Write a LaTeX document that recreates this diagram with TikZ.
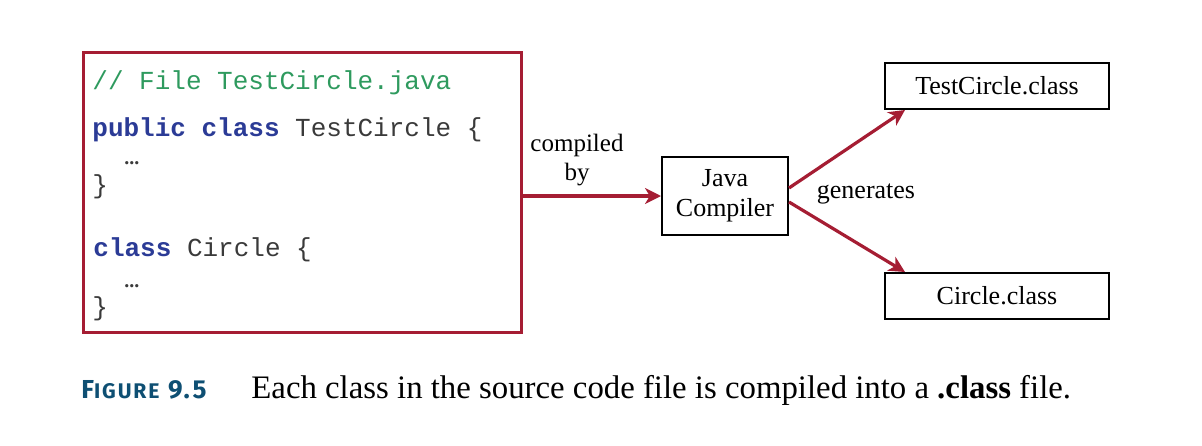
\documentclass[tikz,border=0pt]{standalone}
\usepackage{fontspec}
\setmainfont{Liberation Serif}
\setmonofont{Liberation Mono}
\newfontfamily\capsans[LetterSpace=9]{Fira Sans}
\usetikzlibrary{arrows.meta,calc}
\definecolor{codered}{HTML}{A51D33}
\definecolor{codegreen}{HTML}{2E9A5E}
\definecolor{codeblue}{HTML}{2B3B96}
\definecolor{codegray}{HTML}{3A3A3A}
\definecolor{capblue}{HTML}{0E4F73}
\begin{document}
\begin{tikzpicture}[x=0.5pt,y=-0.5pt,
  codeline/.style={anchor=base west,inner sep=0pt,font=\fontsize{13}{15}\ttfamily,text=codegray},
  dots/.style={anchor=base west,inner sep=0pt,font=\fontsize{10}{12}\bfseries,text=codegray},
  plainbox/.style={draw=black,line width=1pt,inner sep=0pt,align=center,font=\fontsize{13}{15}\selectfont},
  redarrow/.style={draw=codered,line width=1.6pt,-{Stealth[length=8pt,width=8pt,inset=2.4pt]}},
  lbl/.style={inner sep=0pt,align=center,font=\fontsize{12.5}{14.5}\selectfont}]
\useasboundingbox (0,0) rectangle (1202,445);
% code box
\node[draw=codered,line width=1.5pt,minimum width=219pt,minimum height=140pt,inner sep=0pt] (code) at (302,192) {};
\node[codeline,text=codegreen] (l1) at (92,89) {// File TestCircle.java};
\node[codeline] (l2) at (92,136) {\textcolor{codeblue}{\bfseries public class} TestCircle \{};
\node[dots] (l3) at (124,164) {...};
\node[codeline] (l4) at (92,193) {\}};
\node[codeline] (l5) at (93,256) {\textcolor{codeblue}{\bfseries class} Circle \{};
\node[dots] (l6) at (124,287) {...};
\node[codeline] (l7) at (92,315) {\}};
% boxes
\node[plainbox,minimum width=63pt,minimum height=39pt] (java) at (725,196) {Java\\Compiler};
\node[plainbox,minimum width=112pt,minimum height=23pt] (tc) at (997,86) {TestCircle.class};
\node[plainbox,minimum width=112pt,minimum height=23pt] (cc) at (997,296) {Circle.class};
% arrows
\draw[redarrow] (code.east |- java.west) -- (java.west);
\draw[redarrow] ($(java.east)+(0,-8)$) -- ($(tc.south west)+(21,0)$);
\draw[redarrow] ($(java.east)+(0,6)$) -- ($(cc.north west)+(21,0)$);
% labels
\node[lbl] (compiled) at (577,160) {compiled\\by};
\node[lbl,anchor=base,font=\fontsize{13}{15}\selectfont] (gen) at (866,198) {generates};
% caption
\node[anchor=base west,inner sep=0pt,text=capblue,font=\capsans\bfseries] (fig) at (81,398)
  {\fontsize{13}{14}\selectfont F\fontsize{10.6}{14}\selectfont IGURE\fontsize{13}{14}\selectfont\ 9.5};
\node[anchor=base west,inner sep=0pt,font=\fontsize{16.4}{19}\selectfont] (cap) at (251,398)
  {Each class in the source code file is compiled into a \textbf{.class} file.};
\end{tikzpicture}
\end{document}
